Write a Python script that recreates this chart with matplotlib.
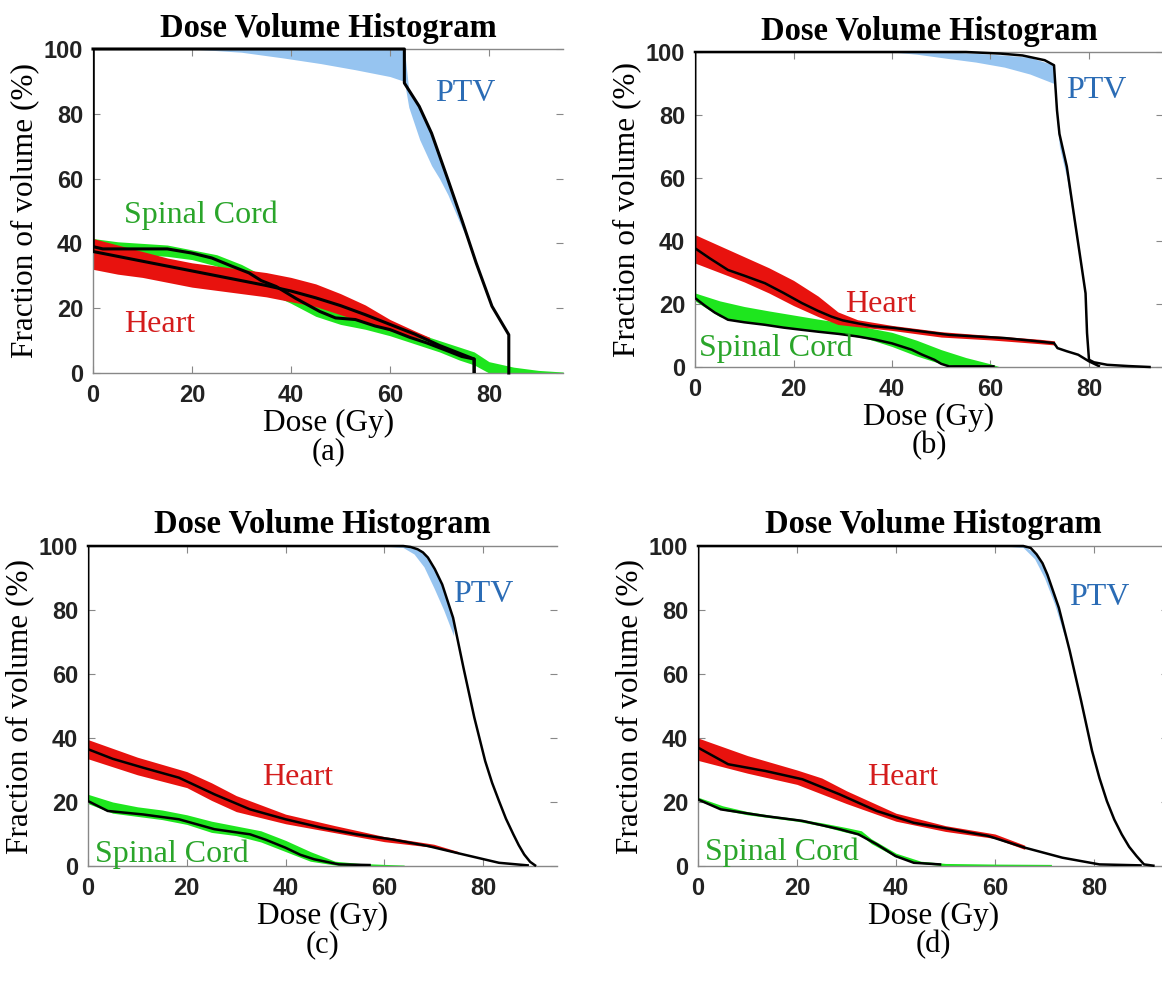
import matplotlib
matplotlib.use("Agg")
import matplotlib.pyplot as plt
import numpy as np

# ---------------- data (Dose in Gy, volume in %) ----------------
# Panel (a)
a_ptv_x = [0, 62.9, 62.9, 65.9, 68.4, 71.7, 74.5, 77.4, 80.6, 84.0, 84.0]
a_ptv_y = [100, 100, 89.5, 82.3, 74.0, 59.7, 47.3, 34.0, 20.6, 11.8, 0]
a_ptv_band_x = [0, 20, 30, 38.6, 46, 53, 60, 62.9, 63.8, 66, 68.4, 70, 71.7, 73.1, 74.5, 76, 77.4]
a_ptv_band_lo = [100, 100, 99, 97.2, 95.5, 93.6, 91.5, 90.0, 82, 72, 64, 60, 55, 50, 45, 40, 34]
a_ptv_band_hi = [100, 100, 100, 100, 100, 100, 100, 100, 87.3, 82, 74, 67.1, 59.7, 53.5, 47.3, 40.4, 34]
a_heart_x = [0, 0, 10, 20, 25, 30, 35, 40, 45, 50, 55, 60, 65, 70, 75, 77, 77]
a_heart_y = [100, 37.5, 34.5, 31.5, 30, 28.5, 27, 25.3, 23.2, 20.8, 18, 15, 12, 8.5, 5.5, 4.3, 0]
a_heart_band_x = [0, 5, 10, 15, 20, 25, 30, 35, 40, 45, 50, 55, 60, 65, 68]
a_heart_band_hi = [41.5, 39.5, 37.5, 35.5, 34, 33, 32, 31, 29.5, 27.5, 24.5, 21, 16.5, 13, 11]
a_heart_band_lo = [32, 30.5, 29.5, 28, 26.5, 25.5, 24.5, 23.5, 22, 20.5, 18, 15.5, 13, 11, 10]
a_cord_x = [0, 0, 2, 15, 20, 24, 28, 31.5, 34, 37, 41, 45.8, 49, 53, 57, 60, 64, 67.4, 71, 74.5, 77, 77]
a_cord_y = [100, 39, 38.3, 38.3, 37, 35.5, 33, 30.9, 28.5, 26.7, 23, 19, 17, 16.5, 14.5, 13.4, 11, 9.3, 7.2, 5.1, 4.3, 0]
a_cord_band_x = [0, 5, 10, 15, 20, 25, 30, 35, 40, 45, 50, 55, 60, 65, 70, 74, 77, 80, 85, 90, 95]
a_cord_band_hi = [41.5, 40.5, 40, 39.5, 38, 36.5, 33.5, 29.5, 25, 21, 19, 17, 15, 12.5, 10, 8, 6.5, 3.5, 1.8, 0.8, 0.3]
a_cord_band_lo = [37.5, 37, 36.5, 36, 35, 33, 29, 25, 21.5, 17.5, 15, 13.5, 11.5, 9, 6.5, 4, 2.5, 0, 0, 0, 0]

# Panel (b)
b_ptv_x = [0, 55, 62, 66.5, 71, 72.9, 73.5, 74, 75.5, 77, 78.5, 79.3, 79.6, 80, 81, 83.7, 88, 92.3]
b_ptv_y = [100, 100, 99.5, 98.9, 97.4, 95.8, 81.5, 74, 63.6, 47.7, 31.9, 23.4, 10.8, 2.3, 1.5, 0.7, 0.3, 0]
b_ptv_band_x = [40, 45, 51.6, 57, 62.8, 68, 72.9, 73.5, 74, 75.5, 77, 78.5]
b_ptv_band_lo = [100, 99.3, 97.9, 96.8, 95.2, 93, 90, 78, 70, 60, 45, 31.9]
b_ptv_band_hi = [100, 100, 100, 99.6, 99.0, 98.3, 95.8, 81.5, 74, 63.6, 47.7, 31.9]
b_heart_x = [0, 0, 3, 6.7, 10, 14.2, 18, 21.7, 25, 27.7, 30, 32.9, 36, 40.4, 46, 51.6, 57, 62.8, 68, 72.9, 73.6, 75.5, 77.8, 80, 82]
b_heart_y = [100, 37.7, 34.5, 30.8, 29, 26.6, 23.5, 20.3, 17.8, 16, 14.8, 13.9, 13, 12.4, 11.3, 10.2, 9.7, 9.2, 8.4, 7.6, 6, 5, 3.9, 1.8, 0.3]
b_heart_band_x = [0, 5, 10, 15, 20, 25, 29, 33, 40, 50, 60, 70, 73]
b_heart_band_hi = [42, 38.5, 35, 31.5, 27.5, 22.5, 17.5, 15, 13.2, 11.2, 10, 8.8, 8.3]
b_heart_band_lo = [33, 30, 27, 23.5, 19.5, 16, 13.5, 12.8, 11.6, 9.5, 8.6, 7.4, 7.0]
b_cord_x = [0, 0, 2, 4, 6.7, 10, 14.2, 18, 21.7, 25, 29.2, 33, 36.6, 40, 44, 46, 48.6, 50, 51.6, 60.6]
b_cord_y = [100, 21.9, 19.5, 17.3, 15, 14.2, 13.4, 12.5, 11.8, 11.2, 10.5, 9.7, 8.7, 7.5, 5.5, 4, 2.3, 1, 0.2, 0.2]
b_cord_band_x = [0, 5, 10, 15, 20, 25, 30, 35, 40, 45, 50, 55, 60, 62]
b_cord_band_hi = [23.5, 21, 19.2, 17.8, 16.5, 15.2, 14, 12.5, 11, 8.5, 5.5, 3, 1, 0]
b_cord_band_lo = [21, 16, 14.2, 13.2, 12.2, 11.3, 10.3, 9, 6.5, 3.5, 1, 0, 0, 0]

# Panel (c)
c_ptv_x = [0, 63.8, 65.3, 66.7, 67.8, 68.8, 70.2, 71.7, 73.9, 76, 78.2, 80.4, 81.8, 83.2, 84.6, 86.1, 87.2, 88.3, 89.5, 90.5]
c_ptv_y = [100, 100, 99.7, 99, 98, 96.4, 92.8, 88, 77.6, 62, 46.4, 32.8, 26, 20.3, 14.8, 9.9, 6.5, 3.6, 1.3, 0.2]
c_ptv_band_x = [60, 63.8, 66, 68, 70, 72, 74]
c_ptv_band_lo = [100, 99.5, 97.5, 93.5, 87, 80, 72]
c_ptv_band_hi = [100, 100, 99.3, 97.5, 92.9, 86.6, 76.9]
c_heart_x = [0, 0, 5, 11.2, 18.4, 25.6, 32.8, 40, 47.2, 54.4, 61.6, 68.8, 76, 83.2, 89]
c_heart_y = [100, 36.5, 33.5, 30.7, 27.6, 22.4, 17.7, 14.6, 12, 9.9, 8.3, 6.25, 3.6, 1, 0.2]
c_heart_band_x = [0, 10, 20, 25, 30, 40, 50, 60, 70, 75]
c_heart_band_hi = [39.5, 34, 29.5, 26, 22, 16.2, 12.6, 9.2, 6.8, 4.5]
c_heart_band_lo = [33.5, 28.5, 24.5, 20.5, 17, 13.2, 10.4, 7.6, 5.8, 3.8]
c_cord_x = [0, 0, 4, 11.2, 18.4, 25.6, 32.8, 36, 40, 43, 45.8, 50.8, 57]
c_cord_y = [100, 20.3, 17.2, 16.1, 14.6, 11.5, 9.9, 8.2, 5.7, 3.5, 2.1, 0.5, 0.3]
c_cord_band_x = [0, 5, 10, 15, 20, 25, 30, 35, 40, 45, 50, 55, 60, 64]
c_cord_band_hi = [22.4, 20, 18.5, 17.5, 16, 14, 12.5, 11, 8, 4.5, 1.5, 0.8, 0.5, 0.3]
c_cord_band_lo = [19.5, 16.5, 15.5, 14.5, 13, 10.5, 9.5, 7.5, 4.5, 1.5, 0.3, 0, 0, 0]

# Panel (d)
d_ptv_x = [0, 65.7, 67.2, 68.4, 69.6, 70.6, 72.9, 75.1, 77.4, 79.6, 81.1, 82.6, 84.1, 85.6, 87.1, 88.6, 90.1, 92]
d_ptv_y = [100, 100, 99.4, 97.4, 94.6, 91, 80.7, 67.2, 51.6, 36, 27.5, 20.3, 14.5, 9.9, 6.0, 3.1, 0.5, 0.1]
d_ptv_band_x = [62, 65.7, 68, 70, 72, 74]
d_ptv_band_lo = [100, 99.5, 96, 90, 82, 72]
d_ptv_band_hi = [100, 100, 98, 92.7, 84.7, 74]
d_heart_x = [0, 0, 6.1, 13.6, 21.1, 28.6, 36.1, 43.6, 51.1, 58.6, 66.1, 73.6, 81.1, 89.4]
d_heart_y = [100, 37, 31.8, 29.7, 27.1, 22.4, 17.2, 13.5, 11.5, 9.4, 5.7, 2.6, 0.5, 0.2]
d_heart_band_x = [0, 10, 20, 25, 30, 40, 50, 60, 66]
d_heart_band_hi = [40, 34.5, 30, 27.5, 23.5, 16.5, 12.6, 10, 6.5]
d_heart_band_lo = [33, 29, 25.5, 22.5, 19.5, 14, 10.8, 8.6, 5.2]
d_cord_x = [0, 0, 4.6, 13.6, 21.1, 28.6, 32.4, 36.1, 39.9, 43.6, 48.9]
d_cord_y = [100, 20.8, 17.7, 15.6, 14.1, 11.5, 9.9, 6.8, 3.1, 1, 0.5]
d_cord_band_x = [0, 5, 10, 15, 20, 25, 30, 33, 35, 40, 45, 50, 60, 71.4]
d_cord_band_hi = [21.5, 18.8, 17, 15.8, 14.8, 13.5, 12, 11, 8.5, 4, 1.5, 0.8, 0.6, 0.5]
d_cord_band_lo = [20.5, 17.5, 16, 15, 14, 12.5, 10.5, 9.5, 7, 2.8, 0.8, 0, 0, 0]

# label positions (x, y) in data units
a_labels = {"PTV": (75.3, 86.4), "Spinal Cord": (21.8, 48.6), "Heart": (13.5, 15)}
b_labels = {"PTV": (81.5, 87.9), "Heart": (37.8, 19.7), "Spinal Cord": (16.4, 6)}
c_labels = {"PTV": (80, 85), "Heart": (42.5, 27.6), "Spinal Cord": (16.9, 3.6)}
d_labels = {"PTV": (81.1, 83.9), "Heart": (41.4, 27.6), "Spinal Cord": (17, 4.2)}

panel_names = ["(a)", "(b)", "(c)", "(d)"]
x_ticks = [0, 20, 40, 60, 80]
y_ticks = [0, 20, 40, 60, 80, 100]

# ---------------- style ----------------
C_PTV_BAND = "#96c4f0"
C_HEART = "#e8120e"
C_CORD = "#1ee61e"
C_PTV_TXT = "#2b6cb5"
C_HEART_TXT = "#d41c1c"
C_CORD_TXT = "#2aa52a"
label_colors = {"PTV": C_PTV_TXT, "Heart": C_HEART_TXT, "Spinal Cord": C_CORD_TXT}

SERIF = ["Liberation Serif", "DejaVu Serif"]
TICKF = ["Liberation Sans", "DejaVu Sans"]

W, H = 1162, 984
fig = plt.figure(figsize=(W / 100, H / 100), dpi=100)

# axes boxes in pixels: left, top, px-per-Gy, bottom
boxes = [
    (93, 49, 4.95, 373),
    (695, 52, 4.925, 367),
    (88, 546, 4.94, 866),
    (698, 546, 4.95, 866),
]
XMAX = 95

panels = [
    (a_ptv_x, a_ptv_y, a_ptv_band_x, a_ptv_band_lo, a_ptv_band_hi,
     a_heart_x, a_heart_y, a_heart_band_x, a_heart_band_lo, a_heart_band_hi,
     a_cord_x, a_cord_y, a_cord_band_x, a_cord_band_lo, a_cord_band_hi, a_labels),
    (b_ptv_x, b_ptv_y, b_ptv_band_x, b_ptv_band_lo, b_ptv_band_hi,
     b_heart_x, b_heart_y, b_heart_band_x, b_heart_band_lo, b_heart_band_hi,
     b_cord_x, b_cord_y, b_cord_band_x, b_cord_band_lo, b_cord_band_hi, b_labels),
    (c_ptv_x, c_ptv_y, c_ptv_band_x, c_ptv_band_lo, c_ptv_band_hi,
     c_heart_x, c_heart_y, c_heart_band_x, c_heart_band_lo, c_heart_band_hi,
     c_cord_x, c_cord_y, c_cord_band_x, c_cord_band_lo, c_cord_band_hi, c_labels),
    (d_ptv_x, d_ptv_y, d_ptv_band_x, d_ptv_band_lo, d_ptv_band_hi,
     d_heart_x, d_heart_y, d_heart_band_x, d_heart_band_lo, d_heart_band_hi,
     d_cord_x, d_cord_y, d_cord_band_x, d_cord_band_lo, d_cord_band_hi, d_labels),
]

for i, (box, p) in enumerate(zip(boxes, panels)):
    left, top, ppg, bottom = box
    width_px = XMAX * ppg
    height_px = bottom - top
    ax = fig.add_axes([left / W, 1 - bottom / H, width_px / W, height_px / H])
    (px, py, pbx, pblo, pbhi, hx, hy, hbx, hblo, hbhi,
     cx, cy, cbx, cblo, cbhi, labels) = p

    ax.fill_between(pbx, pblo, pbhi, color=C_PTV_BAND, lw=0, zorder=1)
    ax.fill_between(cbx, cblo, cbhi, color=C_CORD, lw=0, zorder=2)
    ax.fill_between(hbx, hblo, hbhi, color=C_HEART, lw=0, zorder=2)
    lw = 2.2 if i == 0 else 1.8
    ax.plot(px, py, color="black", lw=lw, zorder=4, clip_on=False)
    ax.plot(hx, hy, color="black", lw=lw, zorder=4)
    ax.plot(cx, cy, color="black", lw=lw, zorder=4)

    for name, (tx, ty) in labels.items():
        ax.text(tx, ty, name, color=label_colors[name], fontsize=23,
                family=SERIF, ha="center", va="center", zorder=5)

    ax.set_xlim(0, XMAX)
    ax.set_ylim(0, 100)
    ax.set_xticks(x_ticks)
    ax.set_yticks(y_ticks)
    ax.tick_params(direction="in", length=5, width=0.8, color="#888888",
                   top=True, right=True)
    ax.tick_params(axis="x", pad=8)
    ax.tick_params(axis="y", pad=7)
    for lab in ax.get_xticklabels() + ax.get_yticklabels():
        lab.set_family(TICKF)
        lab.set_fontweight("bold")
        lab.set_fontsize(17)
        lab.set_color("#222222")
    for s in ["left", "bottom", "top"]:
        ax.spines[s].set_color("#888888")
        ax.spines[s].set_linewidth(1.0)
    ax.spines["right"].set_visible(False)

    ax.set_title("Dose Volume Histogram", family=SERIF, fontweight="bold",
                 fontsize=23.5, pad=9)
    ax.set_xlabel("Dose (Gy)", family=SERIF, fontsize=22.5, va="center")
    ax.xaxis.set_label_coords(0.5, -50 / height_px)
    ax.set_ylabel("Fraction of volume (%)", family=SERIF, fontsize=22.5, va="center")
    ax.yaxis.set_label_coords(-68 / width_px, 0.5)
    ax.text(0.5, -79 / height_px, panel_names[i], transform=ax.transAxes,
            family=SERIF, fontsize=22, ha="center", va="center")

fig.savefig("out.png", dpi=100)
